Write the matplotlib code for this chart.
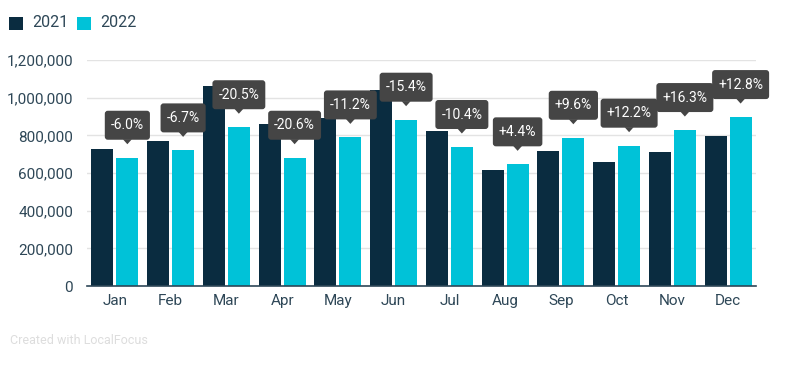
import matplotlib
matplotlib.use("Agg")
import matplotlib.pyplot as plt
from matplotlib.transforms import offset_copy, IdentityTransform
from matplotlib.patches import Rectangle, FancyBboxPatch, Polygon
import numpy as np

plt.rcParams['font.family'] = ['Roboto', 'DejaVu Sans']

months = ["Jan", "Feb", "Mar", "Apr", "May", "Jun", "Jul", "Aug", "Sep", "Oct", "Nov", "Dec"]
v2021 = [725000, 772000, 1062000, 858000, 890000, 1042000, 821000, 618000, 719000, 661000, 712000, 796000]
v2022 = [681000, 720000, 843000, 681000, 789000, 883000, 738000, 646000, 787000, 745000, 828000, 897000]
changes = ["-6.0%", "-6.7%", "-20.5%", "-20.6%", "-11.2%", "-15.4%", "-10.4%", "+4.4%", "+9.6%", "+12.2%", "+16.3%", "+12.8%"]
yticks = [0, 200000, 400000, 600000, 800000, 1000000, 1200000]

c21 = "#0a2c40"
c22 = "#00c2d8"
txt = "#2e4757"
boxc = "#454545"

fig = plt.figure(figsize=(8, 3.67), dpi=100)
ax = fig.add_axes([87/800, 1-286/367, (756-87)/800, (286-60)/367])

x = np.arange(len(months))
w = 0.395
off = 0.224
ax.bar(x - off, v2021, width=w, color=c21, zorder=2)
ax.bar(x + off, v2022, width=w, color=c22, zorder=2)

ax.set_xlim(-0.5, 11.5)
ax.set_ylim(0, 1200000)
ax.set_yticks(yticks)
ax.set_yticklabels([f"{v:,}" for v in yticks])
ax.set_xticks(x)
ax.set_xticklabels(months)
ax.tick_params(axis='both', length=0, labelsize=11, colors=txt)
ax.tick_params(axis='y', pad=10)
ax.tick_params(axis='x', pad=6)
ax.grid(axis='y', color="#e3e3e3", linewidth=1, zorder=0)
for s in ['top', 'right', 'left']:
    ax.spines[s].set_visible(False)
ax.spines['bottom'].set_color(txt)
ax.spines['bottom'].set_linewidth(1.2)
ax.spines['bottom'].set_zorder(3)

# change labels: text first, then boxes sized to text (pixel units)
texts = []
for i in range(len(months)):
    xi = x[i] + off
    yi = v2022[i]
    t = ax.annotate(changes[i], xy=(xi, yi), xytext=(0, 32.5), textcoords='offset pixels',
                    ha='center', va='center', color='white', fontsize=10, zorder=7,
                    annotation_clip=False)
    texts.append(t)

fig.canvas.draw()
renderer = fig.canvas.get_renderer()
for i, t in enumerate(texts):
    px, py = ax.transData.transform((x[i] + off, v2022[i]))
    tw = t.get_window_extent(renderer).width
    bw = tw + 12
    bottom = py + 18
    box = FancyBboxPatch((px - bw/2, bottom), bw, 29,
                         boxstyle='round,pad=0,rounding_size=3',
                         fc=boxc, ec='none', transform=IdentityTransform(), zorder=6)
    fig.patches.append(box)
    tri = Polygon([(px - 4.5, bottom + 0.5), (px + 4.5, bottom + 0.5), (px, bottom - 4.5)],
                  closed=True, fc=boxc, ec='none', transform=IdentityTransform(), zorder=6)
    fig.patches.append(tri)
    # bring text above fig patches
    t.remove()
    fig.text(px / 800, (bottom + 14.5) / 367, changes[i], color='white', fontsize=10,
             ha='center', va='center', zorder=8)

# legend
fig.patches.append(Rectangle((9/800, 1-30/367), 14/800, 13/367, transform=fig.transFigure,
                             fc=c21, ec='none'))
fig.patches.append(Rectangle((77/800, 1-30/367), 14/800, 13/367, transform=fig.transFigure,
                             fc=c22, ec='none'))
fig.text(32/800, 1-22.5/367, "2021", color=txt, fontsize=11.5, va='center', ha='left')
fig.text(100/800, 1-22.5/367, "2022", color=txt, fontsize=11.5, va='center', ha='left')

fig.text(10/800, 1-340/367, "Created with LocalFocus", color="#dddddd", fontsize=9, va='center', ha='left')

fig.savefig("out.png", dpi=100)
